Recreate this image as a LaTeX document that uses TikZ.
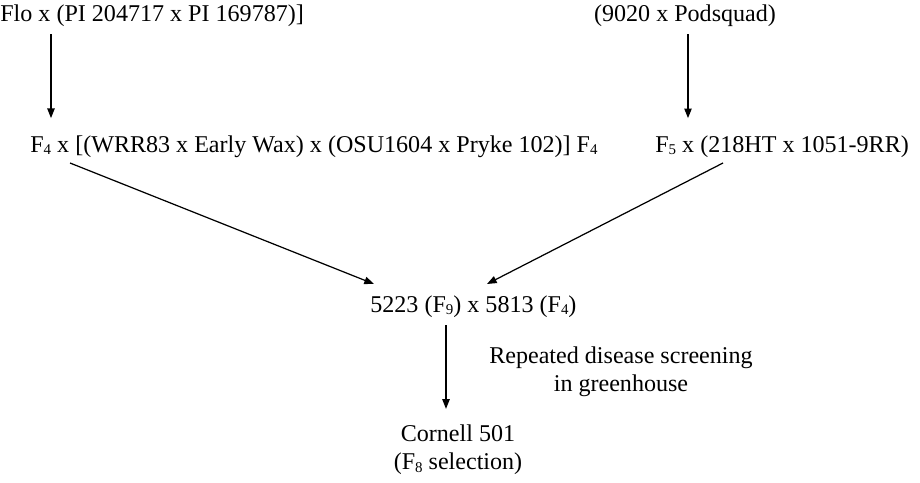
\documentclass[tikz,border=0pt]{standalone}
\usepackage{fontspec}
\setmainfont{Liberation Serif}
\usetikzlibrary{arrows.meta}
\newcommand\sbs[1]{\raisebox{-0.2ex}{\fontsize{8.5}{8.5}\selectfont #1}}
\begin{document}
\begin{tikzpicture}[x=0.02cm,y=-0.02cm,
  lbl/.style={inner sep=0pt,font=\fontsize{13.7}{16}\selectfont},
  arr/.style={line width=0.7pt,-{Triangle[length=5.5pt,width=4.2pt]}}]
\useasboundingbox (0,0) rectangle (920,483);
\node[lbl,anchor=west] (flo) at (0,16) {Flo x (PI 204717 x PI 169787)]};
\node[lbl] (pod) at (685,16) {(9020 x Podsquad)};
\node[lbl,anchor=west] (f4) at (30,147) {F\sbs{4} x [(WRR83 x Early Wax) x (OSU1604 x Pryke 102)] F\sbs{4}};
\node[lbl,anchor=west] (f5) at (655,147) {F\sbs{5} x (218HT x 1051-9RR)};
\node[lbl,anchor=west] (cross) at (370,307) {5223 (F\sbs{9}) x 5813 (F\sbs{4})};
\node[lbl,align=center] (rep) at (621,372) {Repeated disease screening\\in greenhouse};
\node[lbl,align=center] (cor) at (458,450) {Cornell 501\\(F\sbs{8} selection)};
\coordinate (a1) at (51,0);
\coordinate (a2) at (688,0);
\coordinate (a3) at (446,0);
\coordinate (d1s) at (70,163);
\coordinate (d1e) at (374,284);
\coordinate (d2s) at (723,163);
\coordinate (d2e) at (487,284);
\draw[arr,shorten <=4pt,shorten >=10pt] (flo.south -| a1) -- (f4.north -| a1);
\draw[arr,shorten <=4pt,shorten >=10pt] (pod.south -| a2) -- (f5.north -| a2);
\draw[arr] (d1s) -- (d1e);
\draw[arr] (d2s) -- (d2e);
\draw[arr,shorten <=4pt,shorten >=9pt] (cross.south -| a3) -- (cor.north -| a3);
\end{tikzpicture}
\end{document}
